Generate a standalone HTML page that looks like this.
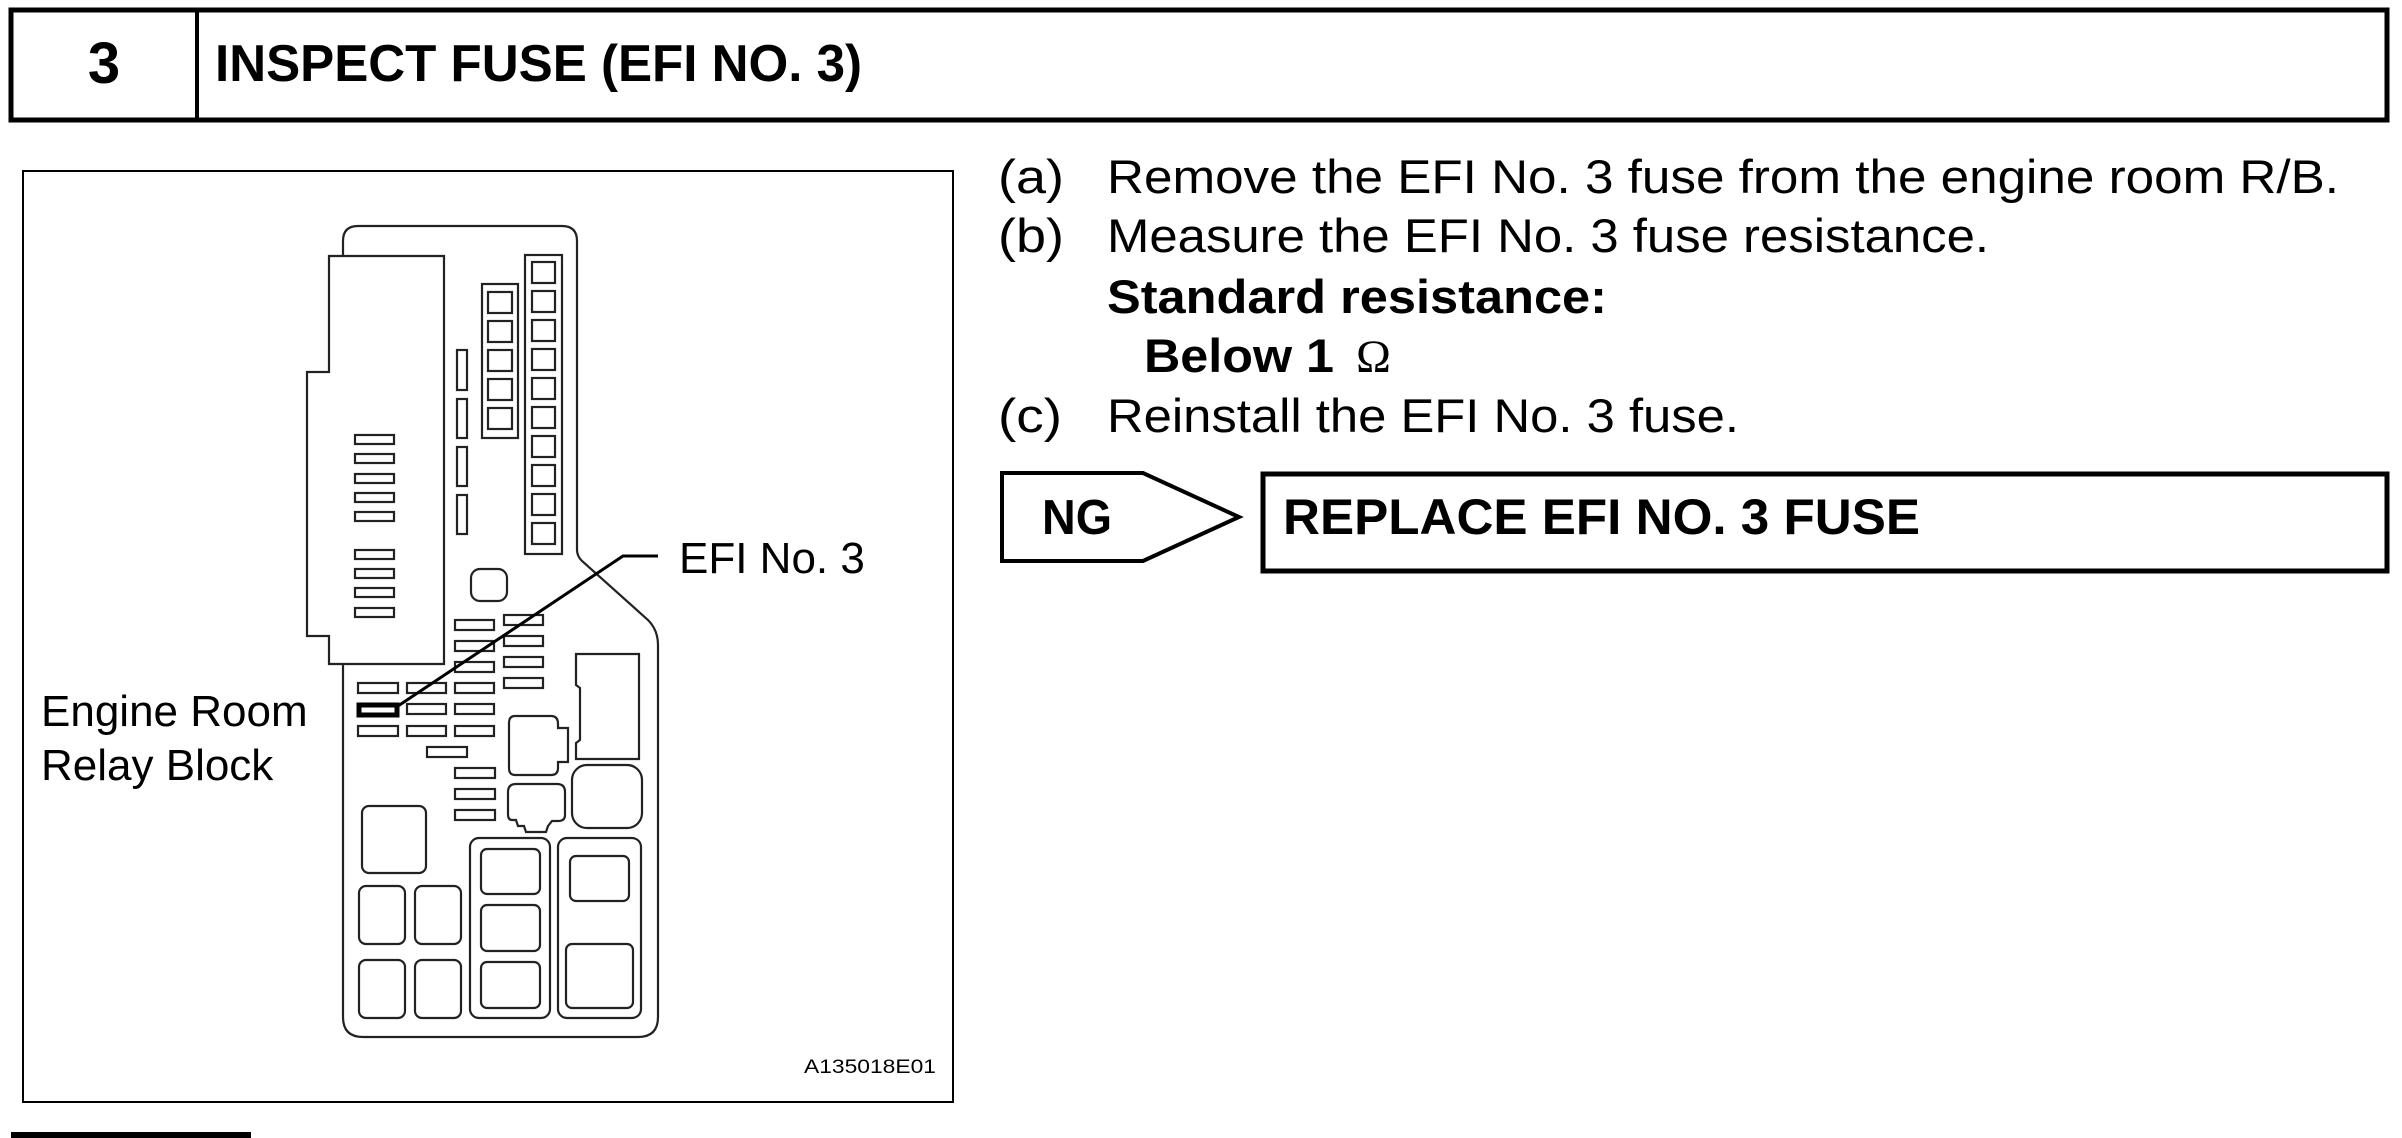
<!DOCTYPE html>
<html><head><meta charset="utf-8"><style>html,body{margin:0;padding:0;background:#fff;}svg{display:block;}</style></head>
<body>
<svg width="2402" height="1138" viewBox="0 0 2402 1138" xmlns="http://www.w3.org/2000/svg" font-family="Liberation Sans, Arial, sans-serif">
<rect width="2402" height="1138" fill="#fff"/>
<rect x="11" y="10" width="2376" height="110" fill="none" stroke="#000" stroke-width="5"/>
<line x1="197" y1="10" x2="197" y2="120" stroke="#000" stroke-width="4"/>
<text x="104" y="83" font-size="58" font-weight="bold" text-anchor="middle">3</text>
<text x="215" y="81" font-size="52" font-weight="bold" textLength="647" lengthAdjust="spacingAndGlyphs">INSPECT FUSE (EFI NO. 3)</text>

<g font-size="47">
<text x="998" y="193" textLength="66" lengthAdjust="spacingAndGlyphs">(a)</text>
<text x="1107" y="193" textLength="1232" lengthAdjust="spacingAndGlyphs">Remove the EFI No. 3 fuse from the engine room R/B.</text>
<text x="998" y="252" textLength="66" lengthAdjust="spacingAndGlyphs">(b)</text>
<text x="1107" y="252" textLength="882" lengthAdjust="spacingAndGlyphs">Measure the EFI No. 3 fuse resistance.</text>
<text x="1107" y="313" font-weight="bold" textLength="500" lengthAdjust="spacingAndGlyphs">Standard resistance:</text>
<text x="1144" y="372" font-weight="bold" textLength="190" lengthAdjust="spacingAndGlyphs">Below 1</text>
<text x="1356" y="372" font-family="Liberation Serif, serif">Ω</text>
<text x="998" y="432" textLength="64" lengthAdjust="spacingAndGlyphs">(c)</text>
<text x="1107" y="432" textLength="632" lengthAdjust="spacingAndGlyphs">Reinstall the EFI No. 3 fuse.</text>
</g>

<polygon points="1002,473 1143,473 1239,517 1143,561 1002,561" fill="none" stroke="#000" stroke-width="4"/>
<text x="1042" y="534" font-size="49" font-weight="bold" textLength="70" lengthAdjust="spacingAndGlyphs">NG</text>
<rect x="1263" y="474" width="1124" height="97" fill="none" stroke="#000" stroke-width="5"/>
<text x="1283" y="534" font-size="50" font-weight="bold" textLength="637" lengthAdjust="spacingAndGlyphs">REPLACE EFI NO. 3 FUSE</text>

<rect x="23" y="171" width="930" height="931" fill="none" stroke="#000" stroke-width="2"/>
<rect x="11" y="1132" width="240" height="6" fill="#000"/>

<g fill="none" stroke="#222" stroke-width="2.2">
<path d="M343,1017 L343,241 Q343,226 358,226 L562,226 Q577,226 577,241 L577,550 Q577,556 582,561 L648,620 Q658,630 658,645 L658,1017 Q658,1037 638,1037 L363,1037 Q343,1037 343,1017 Z" fill="#fff"/>
<polygon points="329,256 444,256 444,664 329,664 329,636 307,636 307,372 329,372" fill="#fff"/>
<rect x="355" y="435" width="39" height="9"/><rect x="355" y="454" width="39" height="9"/><rect x="355" y="474" width="39" height="9"/><rect x="355" y="493" width="39" height="9"/><rect x="355" y="512" width="39" height="9"/>
<rect x="355" y="550" width="39" height="9"/><rect x="355" y="569" width="39" height="9"/><rect x="355" y="588" width="39" height="9"/><rect x="355" y="608" width="39" height="9"/>
<rect x="457" y="350" width="10" height="40"/><rect x="457" y="399" width="10" height="39"/><rect x="457" y="447" width="10" height="39"/><rect x="457" y="495" width="10" height="39"/>
<rect x="482" y="284" width="36" height="154"/>
<rect x="488" y="292" width="24" height="21"/><rect x="488" y="321" width="24" height="21"/><rect x="488" y="350" width="24" height="21"/><rect x="488" y="379" width="24" height="21"/><rect x="488" y="408" width="24" height="21"/>
<rect x="525" y="255" width="37" height="299"/>
<rect x="532" y="262" width="23" height="21"/><rect x="532" y="291" width="23" height="21"/><rect x="532" y="320" width="23" height="21"/><rect x="532" y="349" width="23" height="21"/><rect x="532" y="378" width="23" height="21"/>
<rect x="532" y="407" width="23" height="21"/><rect x="532" y="436" width="23" height="21"/><rect x="532" y="465" width="23" height="21"/><rect x="532" y="494" width="23" height="21"/><rect x="532" y="523" width="23" height="21"/>
<rect x="471" y="569" width="36" height="32" rx="9"/>
<rect x="504" y="615" width="39" height="10"/><rect x="504" y="636" width="39" height="10"/><rect x="504" y="657" width="39" height="10"/><rect x="504" y="678" width="39" height="10"/>
<rect x="455" y="620" width="39" height="10"/><rect x="455" y="641" width="39" height="10"/><rect x="455" y="662" width="39" height="10"/><rect x="455" y="683" width="39" height="10"/><rect x="455" y="704" width="39" height="10"/><rect x="455" y="726" width="39" height="10"/>
<rect x="407" y="683" width="39" height="10"/><rect x="407" y="704" width="39" height="10"/><rect x="407" y="726" width="39" height="10"/>
<rect x="358" y="683" width="40" height="10"/><rect x="358" y="726" width="40" height="10"/>
<rect x="359" y="705" width="38" height="10" stroke="#000" stroke-width="5"/>
<rect x="427" y="747" width="40" height="10"/>
<rect x="455" y="768" width="40" height="10"/><rect x="455" y="789" width="40" height="10"/><rect x="455" y="810" width="40" height="10"/>
<path d="M576,654 L639,654 L639,759 L576,759 L576,743 L580,740 L580,688 L576,685 Z"/>
<path d="M515,716 L551,716 Q558,716 558,724 L558,728 L568,728 L568,762 L558,762 L558,768 Q558,775 551,775 L515,775 Q509,775 509,768 L509,723 Q509,716 515,716 Z"/>
<rect x="572" y="765" width="70" height="63" rx="15"/>
<path d="M516,784 L557,784 Q565,784 565,792 L565,815 Q565,821 558,821 L552,821 L548,826 L546,832 L526,832 L524,826 L518,826 L516,820 L512,820 Q508,820 508,814 L508,792 Q508,784 516,784 Z"/>
<rect x="362" y="806" width="64" height="67" rx="7"/>
<rect x="359" y="886" width="46" height="58" rx="7"/><rect x="415" y="886" width="46" height="58" rx="7"/>
<rect x="359" y="960" width="46" height="58" rx="7"/><rect x="415" y="960" width="46" height="58" rx="7"/>
<rect x="470" y="838" width="80" height="180" rx="9"/>
<rect x="481" y="849" width="59" height="45" rx="6"/><rect x="481" y="905" width="59" height="46" rx="6"/><rect x="481" y="962" width="59" height="46" rx="6"/>
<rect x="558" y="838" width="83" height="180" rx="9"/>
<rect x="570" y="856" width="59" height="45" rx="6"/><rect x="566" y="944" width="67" height="64" rx="6"/>
</g>
<polyline points="398,706 623,556 658,556" fill="none" stroke="#000" stroke-width="3"/>
<g font-size="44">
<text x="679" y="573">EFI No. 3</text>
<text x="41" y="726">Engine Room</text>
<text x="41" y="780">Relay Block</text>
</g>
<text x="804" y="1073" font-size="19" textLength="132" lengthAdjust="spacingAndGlyphs">A135018E01</text>
</svg>
</body></html>
